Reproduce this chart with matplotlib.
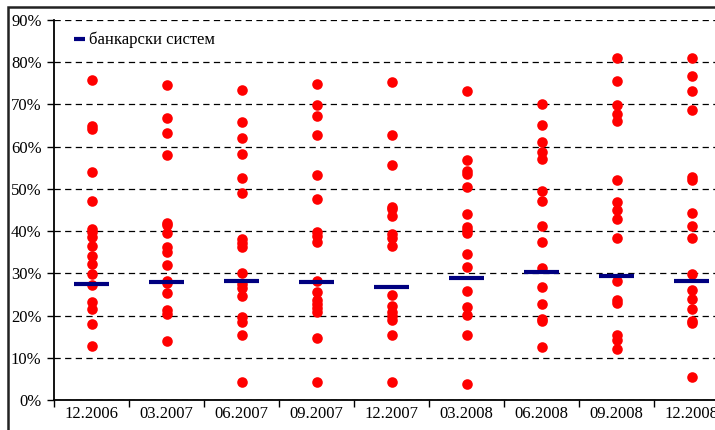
import matplotlib.pyplot as plt
from matplotlib.patches import Rectangle
from matplotlib.ticker import FixedLocator, PercentFormatter

periods = ['12.2006', '03.2007', '06.2007', '09.2007', '12.2007',
           '03.2008', '06.2008', '09.2008', '12.2008']

# individual banks, % per period
banks_1206 = [75.8, 64.8, 64.3, 54.0, 47.1, 40.6, 39.9, 38.5, 36.4, 34.2, 32.3, 29.8, 27.2, 23.2, 21.6, 18.0, 12.9]
banks_0307 = [74.5, 66.9, 63.3, 58.1, 42.0, 41.4, 39.5, 36.2, 35.0, 32.0, 28.3, 27.7, 25.4, 21.2, 20.3, 13.9]
banks_0607 = [73.4, 65.8, 62.0, 58.3, 52.5, 49.1, 38.2, 37.3, 36.2, 30.1, 27.4, 26.6, 24.7, 19.6, 18.4, 15.4, 4.3]
banks_0907 = [74.8, 69.8, 67.3, 62.7, 53.4, 47.6, 39.8, 38.8, 37.4, 28.1, 25.6, 23.6, 22.8, 21.7, 20.8, 14.6, 4.3]
banks_1207 = [75.3, 62.8, 55.6, 45.8, 45.2, 43.6, 39.4, 38.4, 36.5, 24.9, 22.2, 20.8, 19.8, 19.0, 15.3, 4.2]
banks_0308 = [73.2, 56.9, 54.2, 53.5, 50.4, 44.1, 40.9, 40.3, 39.5, 34.6, 31.6, 25.7, 22.0, 20.1, 15.5, 3.7]
banks_0608 = [70.2, 65.1, 61.2, 58.7, 57.1, 49.4, 47.2, 41.3, 37.5, 31.3, 26.7, 22.8, 19.2, 18.7, 12.5]
banks_0908 = [81.0, 75.6, 69.8, 67.7, 66.1, 52.2, 46.9, 45.0, 42.9, 38.3, 28.2, 23.6, 23.0, 15.5, 14.2, 12.1]
banks_1208 = [81.0, 76.8, 73.3, 68.8, 52.9, 52.0, 44.4, 41.3, 38.3, 29.9, 26.1, 24.0, 21.6, 18.8, 18.3, 5.4]

# banking system average
system = [27.5, 28.0, 28.3, 28.0, 26.7, 28.9, 30.4, 29.4, 28.3]

banks = [banks_1206, banks_0307, banks_0607, banks_0907, banks_1207,
         banks_0308, banks_0608, banks_0908, banks_1208]

plt.rcParams['font.family'] = ['Liberation Serif', 'DejaVu Serif']
plt.rcParams['font.size'] = 12

fig = plt.figure(figsize = (7.15, 4.3), dpi = 100)
ax = fig.add_axes([54 / 715, 30 / 430, 675 / 715, 380 / 430])

for i, vals in enumerate(banks):
	ax.scatter([i] * len(vals), vals, s = 58, color = '#ff0000', linewidths = 0, zorder = 3)

xs = list(range(len(periods)))
ax.hlines(system, [x - 0.23 for x in xs], [x + 0.23 for x in xs],
          color = '#000080', lw = 3, zorder = 4, label = 'банкарски систем')

ax.set_xlim(-0.5, len(periods) - 0.5)
ax.set_ylim(0, 90)
ax.set_yticks(range(0, 100, 10))
ax.yaxis.set_major_formatter(PercentFormatter(decimals = 0))
ax.grid(axis = 'y', color = 'black', linestyle = (0, (5, 3.5)), lw = 0.9)
ax.set_axisbelow(True)

ax.xaxis.set_major_locator(FixedLocator([x - 0.5 for x in xs] + [len(xs) - 0.5]))
ax.xaxis.set_minor_locator(FixedLocator(xs))
ax.set_xticklabels([], minor = False)
ax.set_xticklabels(periods, minor = True)
ax.tick_params(axis = 'x', which = 'major', length = 5, width = 1)
ax.tick_params(axis = 'x', which = 'minor', length = 0, pad = 4)
ax.tick_params(axis = 'y', length = 5, width = 1, pad = 4)

for s in ['top', 'right']:
	ax.spines[s].set_visible(False)
for s in ['left', 'bottom']:
	ax.spines[s].set_linewidth(1.3)

ax.legend(loc = 'upper left', bbox_to_anchor = (0.008, 1.008), frameon = False,
          handlelength = 0.65, handletextpad = 0.2, fontsize = 12)

fig.add_artist(Rectangle((8 / 715, -0.1), 1.2, (430 - 7) / 430 + 0.1, transform = fig.transFigure,
                         fill = False, edgecolor = '#222222', lw = 1.8))

fig.savefig('out.png', dpi = 100)
